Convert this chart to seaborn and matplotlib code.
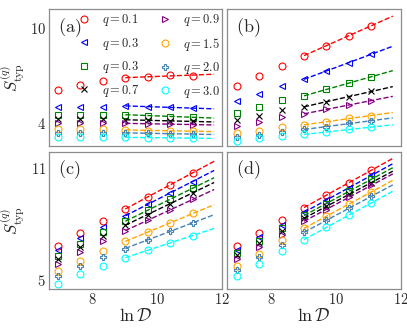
import numpy as np
import matplotlib
matplotlib.use('Agg')
import matplotlib.pyplot as plt
from matplotlib.lines import Line2D
import seaborn as sns

# ── Dados ───────────────────────────────────────────────────────────────────
ln_D = [6.93, 7.62, 8.32, 9.01, 9.70, 10.40, 11.09]

q_labels = ['$q=0.1$', '$q=0.3$', '$q=0.3$', '$q=0.7$',
            '$q=0.9$', '$q=1.5$', '$q=2.0$', '$q=3.0$']

# painel (a)
s_a_q01 = [6.08, 6.39, 6.65, 6.82, 6.92, 7.05, 6.96]
s_a_q03 = [5.02, 5.02, 5.02, 5.07, 5.02, 4.97, 4.93]
s_a_q03b = [4.49, 4.49, 4.49, 4.52, 4.45, 4.39, 4.36]
s_a_q07 = [4.24, 4.24, 4.24, 4.20, 4.15, 4.10, 4.10]
s_a_q09 = [3.97, 3.97, 3.97, 3.97, 3.93, 3.91, 3.89]
s_a_q15 = [3.59, 3.59, 3.59, 3.55, 3.51, 3.51, 3.46]
s_a_q20 = [3.37, 3.37, 3.37, 3.37, 3.33, 3.30, 3.29]
s_a_q30 = [3.12, 3.12, 3.12, 3.08, 3.06, 3.04, 3.03]

# painel (b)
s_b_q01 = [6.33, 6.98, 7.61, 8.25, 8.88, 9.51, 10.15]
s_b_q03 = [5.40, 5.80, 6.33, 6.75, 7.28, 7.81, 8.34]
s_b_q03b = [4.60, 4.98, 5.44, 5.70, 6.12, 6.50, 6.92]
s_b_q07 = [4.18, 4.43, 4.81, 5.02, 5.34, 5.61, 6.01]
s_b_q09 = [3.80, 4.07, 4.39, 4.56, 4.85, 5.13, 5.40]
s_b_q15 = [3.33, 3.50, 3.75, 3.86, 4.07, 4.28, 4.45]
s_b_q20 = [3.12, 3.23, 3.44, 3.59, 3.72, 3.97, 4.13]
s_b_q30 = [2.87, 3.02, 3.16, 3.27, 3.40, 3.59, 3.72]

# painel (c)
s_c_q01 = [6.80, 7.49, 8.15, 8.82, 9.45, 10.10, 10.77]
s_c_q03 = [6.58, 7.27, 7.83, 8.42, 9.09, 9.69, 10.28]
s_c_q03b = [6.26, 6.93, 7.56, 8.15, 8.73, 9.36, 9.92]
s_c_q07 = [6.12, 6.77, 7.34, 7.94, 8.51, 9.09, 9.69]
s_c_q09 = [5.86, 6.48, 7.07, 7.65, 8.19, 8.78, 9.32]
s_c_q15 = [5.45, 5.99, 6.53, 7.07, 7.56, 8.06, 8.57]
s_c_q20 = [5.18, 5.72, 6.23, 6.68, 7.16, 7.61, 8.06]
s_c_q30 = [4.78, 5.31, 5.76, 6.17, 6.62, 6.98, 7.38]

# painel (d)
s_d_q01 = [6.84, 7.52, 8.21, 8.88, 9.56, 10.23, 10.89]
s_d_q03 = [6.62, 7.31, 7.97, 8.64, 9.27, 9.96, 10.62]
s_d_q03b = [6.44, 7.11, 7.76, 8.46, 9.09, 9.77, 10.41]
s_d_q07 = [6.31, 6.98, 7.65, 8.30, 8.96, 9.59, 10.23]
s_d_q09 = [6.12, 6.77, 7.43, 8.15, 8.78, 9.45, 10.08]
s_d_q15 = [5.72, 6.41, 7.13, 7.76, 8.42, 9.09, 9.72]
s_d_q20 = [5.50, 6.21, 6.89, 7.56, 8.19, 8.84, 9.50]
s_d_q30 = [5.18, 5.86, 6.53, 7.16, 7.83, 8.46, 9.15]

paineis = {
    '(a)': [s_a_q01, s_a_q03, s_a_q03b, s_a_q07, s_a_q09, s_a_q15, s_a_q20, s_a_q30],
    '(b)': [s_b_q01, s_b_q03, s_b_q03b, s_b_q07, s_b_q09, s_b_q15, s_b_q20, s_b_q30],
    '(c)': [s_c_q01, s_c_q03, s_c_q03b, s_c_q07, s_c_q09, s_c_q15, s_c_q20, s_c_q30],
    '(d)': [s_d_q01, s_d_q03, s_d_q03b, s_d_q07, s_d_q09, s_d_q15, s_d_q20, s_d_q30],
}

# ── Estilo ───────────────────────────────────────────────────────────────────
cores = ['#FF0000', '#0000FF', '#008000', '#000000',
         '#800080', '#FFA500', '#4682B4', '#00FFFF']
marcadores = ['o', '<', 's', 'x', '>', 'o', 'P', 'o']
N_FIT = 4          # últimos 4 pontos usados no ajuste linear
FIT_END = 11.75

sns.set_theme(style='white')
plt.rcParams['font.family'] = ['DejaVu Serif']
plt.rcParams['mathtext.fontset'] = 'cm'

fig, axes = plt.subplots(2, 2, figsize=(4.07, 3.33), dpi=100, sharex=True, sharey='row')
fig.subplots_adjust(left=0.120, right=0.985, top=0.973, bottom=0.132,
                    wspace=0.03, hspace=0.037)

for ax, (nome, series) in zip(axes.flatten(), paineis.items()):
    for vals, cor, m in zip(series, cores, marcadores):
        sns.lineplot(x=ln_D, y=vals, ax=ax, color=cor, marker=m, markersize=5,
                     markerfacecolor='none', markeredgecolor=cor,
                     markeredgewidth=0.8, linestyle='none')
        # ajuste linear nos pontos maiores
        a, b = np.polyfit(ln_D[-N_FIT:], vals[-N_FIT:], 1)
        xf = np.array([ln_D[-N_FIT], FIT_END])
        sns.lineplot(x=xf, y=a * xf + b, ax=ax, color=cor, linestyle='--',
                     linewidth=1.0)
    ax.text(0.05, 0.95, r'$(\mathrm{%s})$' % nome[1], transform=ax.transAxes,
            fontsize=13, va='top', ha='left')
    for s in ax.spines.values():
        s.set_color('0.55')
        s.set_linewidth(0.9)
    ax.tick_params(direction='in', length=3, color='0.4', labelsize=10.5, pad=2)

axes[0, 0].set_xlim(6.65, 12)
axes[0, 0].set_ylim(2.5, 11.2)
axes[1, 0].set_ylim(4.5, 11.9)
axes[0, 0].set_yticks([4, 10])
axes[0, 0].set_yticklabels(['$4$', '$10$'])
axes[1, 0].set_yticks([5, 11])
axes[1, 0].set_yticklabels(['$5$', '$11$'])
for ax in axes[1]:
    ax.set_xticks([8, 10, 12])
    ax.set_xticklabels(['$8$', '$10$', '$12$'])
    ax.set_xlabel(r'$\ln\mathcal{D}$', fontsize=13, labelpad=0)
for ax in axes[:, 0]:
    ax.set_ylabel(r'$S_{\rm typ}^{(q)}$', fontsize=12)
    ax.yaxis.set_label_coords(-0.13, 0.5)

# legenda só com marcadores
handles = [Line2D([], [], color=c, marker=m, linestyle='none', markersize=5,
                  markerfacecolor='none', markeredgewidth=0.8)
           for c, m in zip(cores, marcadores)]
axes[0, 0].legend(handles, q_labels, ncol=2, frameon=False, fontsize=9,
                  loc='upper right', bbox_to_anchor=(1.03, 1.03),
                  handlelength=1.0, handletextpad=0.9, columnspacing=1.6,
                  labelspacing=0.6, borderaxespad=0.2)

plt.savefig('out.png', dpi=100)
plt.close()
